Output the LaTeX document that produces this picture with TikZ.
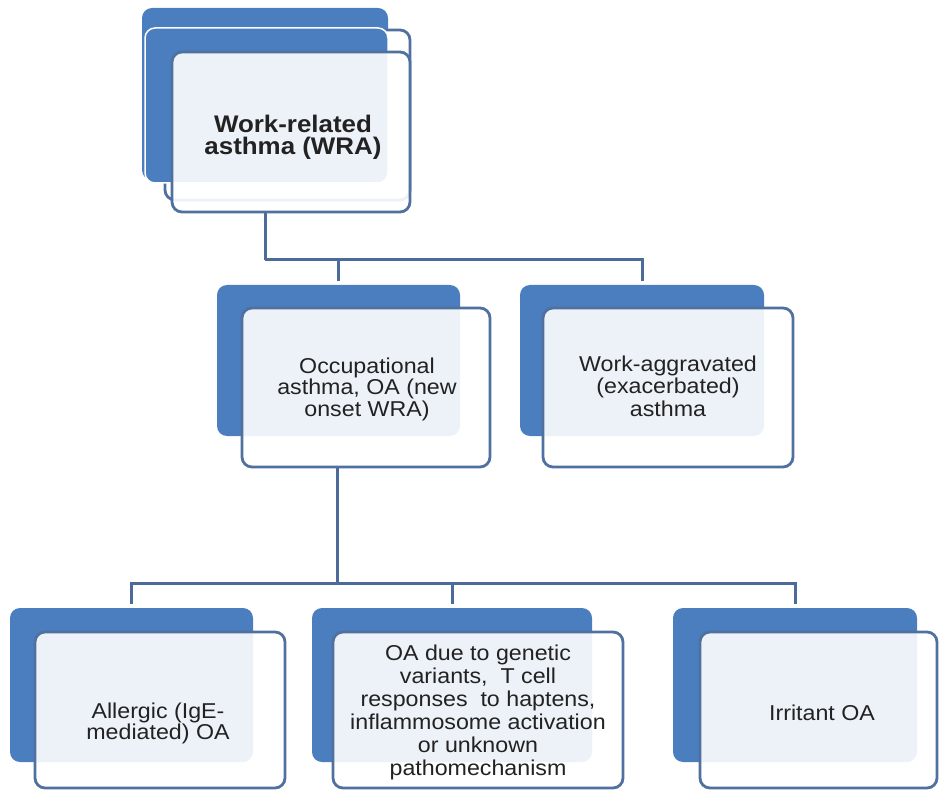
\documentclass[tikz,border=0pt]{standalone}
\usepackage{fontspec}
\setmainfont[FakeStretch=1.08]{Liberation Sans}
\definecolor{cardblue}{HTML}{4A7EBF}
\definecolor{edgeblue}{HTML}{5070A0}
\definecolor{lineblue}{HTML}{4C6A9A}
\definecolor{txt}{HTML}{222222}
\begin{document}
\begin{tikzpicture}[x=1pt,y=-1pt,
  backcard/.style={rectangle,fill=cardblue,draw=none,rounded corners=10pt,inner sep=0pt},
  frontcard/.style={rectangle,draw=edgeblue,line width=2.8pt,fill=white,fill opacity=0.9,rounded corners=10pt,inner sep=0pt},
  label/.style={text=txt,align=center,inner sep=0pt,font=\fontsize{21.5}{23}\selectfont},
  link/.style={draw=lineblue,line width=3pt}]
\useasboundingbox (0,0) rectangle (939,791);
% top stack
\node[backcard,minimum width=246pt,minimum height=172pt] (wraA) at (265,94) {};
\node[frontcard,fill opacity=1,minimum width=245pt,minimum height=170pt] (wraC) at (287.5,115) {};
\node[backcard,draw=white,line width=1.5pt,minimum width=243pt,minimum height=155pt] (wraB) at (266.5,105.5) {};
\node[frontcard,minimum width=238pt,minimum height=160pt] (wraF) at (291,132) {};
\node[label,font=\fontsize{24}{22}\selectfont\bfseries] (wraT) at (293,137) {Work-related\\asthma (WRA)};
% middle row
\node[backcard,minimum width=243pt,minimum height=151pt] (oaB) at (338.5,360.5) {};
\node[frontcard,minimum width=248pt,minimum height=159pt] (oaF) at (366,387.5) {};
\node[label,font=\fontsize{21.5}{21.5}\selectfont] (oaT) at (367,389) {Occupational\\asthma, OA (new\\onset WRA)};
\node[backcard,minimum width=244pt,minimum height=151pt] (wagB) at (642,360.5) {};
\node[frontcard,minimum width=250pt,minimum height=159pt] (wagF) at (668,387.5) {};
\node[label,font=\fontsize{21.5}{22.5}\selectfont] (wagT) at (668,386) {Work-aggravated\\(exacerbated)\\asthma};
% bottom row
\node[backcard,minimum width=243pt,minimum height=154pt] (algB) at (131.5,685) {};
\node[frontcard,minimum width=250pt,minimum height=156pt] (algF) at (160,710) {};
\node[label,font=\fontsize{21.5}{21}\selectfont] (algT) at (158,723) {Allergic (IgE-\\mediated) OA};
\node[backcard,minimum width=280pt,minimum height=154pt] (genB) at (452,685) {};
\node[frontcard,minimum width=290pt,minimum height=156pt] (genF) at (478,710) {};
\node[label] (genT) at (478,712) {OA due to genetic\\variants,~ T cell\\responses~ to haptens,\\inflammosome activation\\or unknown\\pathomechanism};
\node[backcard,minimum width=244pt,minimum height=154pt] (irrB) at (795,685) {};
\node[frontcard,minimum width=237pt,minimum height=156pt] (irrF) at (818.5,710) {};
\node[label] (irrT) at (822,713) {Irritant OA};
% connectors
\coordinate (j1) at (265,260);
\coordinate (j2) at (337,583);
\draw[link] (wraA.center |- wraF.south) -- (j1);
\draw[link,shorten >=4pt] (j1) -| (oaB.north);
\draw[link,shorten >=4pt] (j1) -| (wagB.north);
\draw[link] (j2 |- oaF.south) -- (j2);
\draw[link,shorten >=4pt] (j2) -| (algB.north);
\draw[link,shorten >=4pt] (j2) -| (genB.north);
\draw[link,shorten >=4pt] (j2) -| (irrB.north);
\end{tikzpicture}
\end{document}
